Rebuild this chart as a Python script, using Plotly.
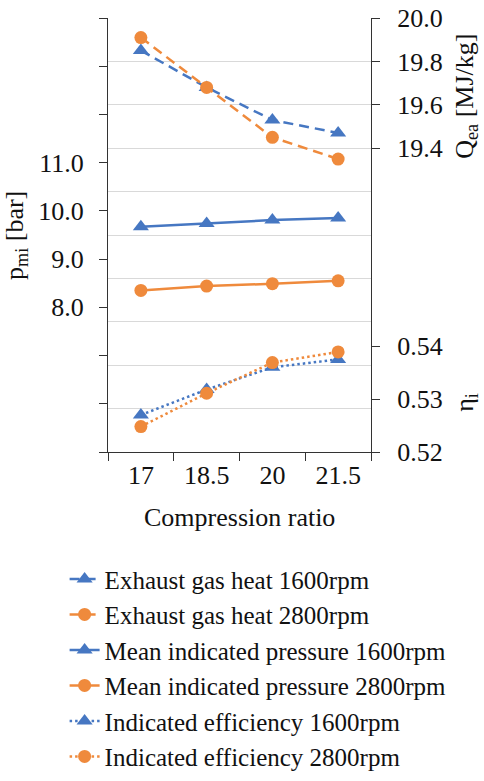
import plotly.graph_objects as go

# Compression ratio categories
ratios = ["17", "18.5", "20", "21.5"]

# Exhaust gas heat Q_ea [MJ/kg]
q_1600 = [19.85, 19.68, 19.53, 19.47]
q_2800 = [19.91, 19.68, 19.45, 19.35]

# Mean indicated pressure p_mi [bar]
p_1600 = [9.67, 9.74, 9.81, 9.85]
p_2800 = [8.35, 8.44, 8.49, 8.55]

# Indicated efficiency eta_i [-]
eta_1600 = [0.527, 0.5318, 0.536, 0.5375]
eta_2800 = [0.5248, 0.5311, 0.5369, 0.5389]

# Axis tick labels
p_ticks = [5, 6, 7, 8, 9, 10, 11, 12, 13, 14]
p_labels = ["", "", "", "8.0", "9.0", "10.0", "11.0", "", "", ""]
q_ticks = [19.4, 19.6, 19.8, 20.0]
q_labels = ["19.4", "19.6", "19.8", "20.0"]
q_grid = [18.0, 18.2, 18.4, 18.6, 18.8, 19.0, 19.2, 19.4, 19.6, 19.8, 20.0]
eta_ticks = [0.52, 0.53, 0.54]
eta_labels = ["0.52", "0.53", "0.54"]

BLUE = "#4677C2"
ORANGE = "#EF8A3C"
FONT = "Liberation Serif"
AXIS = "#333333"
GRID = "#D9D9D9"
TICK_SIZE = 26

fig = go.Figure()

# empty trace that carries the grid axis
fig.add_trace(go.Scatter(x=[ratios[0]], y=[None], yaxis="y4", showlegend=False,
                         hoverinfo="skip", mode="markers"))

series = [
    ("Exhaust gas heat 1600rpm", q_1600, "y2", BLUE, "triangle-up", "10px,6px"),
    ("Exhaust gas heat 2800rpm", q_2800, "y2", ORANGE, "circle", "10px,6px"),
    ("Mean indicated pressure 1600rpm", p_1600, "y", BLUE, "triangle-up", "solid"),
    ("Mean indicated pressure 2800rpm", p_2800, "y", ORANGE, "circle", "solid"),
    ("Indicated efficiency 1600rpm", eta_1600, "y3", BLUE, "triangle-up", "2.5px,3px"),
    ("Indicated efficiency 2800rpm", eta_2800, "y3", ORANGE, "circle", "2.5px,3px"),
]

for name, vals, ax, color, sym, dash in series:
    fig.add_trace(go.Scatter(
        x=ratios, y=vals, name=name, yaxis=ax, mode="lines+markers",
        line=dict(color=color, width=2.5, dash=dash),
        marker=dict(color=color, symbol=sym, size=13 if sym == "circle" else 14),
    ))

fig.update_layout(
    width=484, height=781,
    margin=dict(l=108, r=113, t=18, b=329, autoexpand=False),
    paper_bgcolor="white", plot_bgcolor="white",
    font=dict(family=FONT, size=25, color="#111111"),
    showlegend=True,
    legend=dict(
        x=-0.165, y=-0.24, xanchor="left", yanchor="top",
        font=dict(family=FONT, size=25, color="#111111"),
        bgcolor="rgba(0,0,0,0)", tracegroupgap=0,
    ),
    xaxis=dict(
        type="category", tickson="boundaries", ticks="outside", ticklen=8,
        tickcolor=AXIS, showline=True, linecolor=AXIS, linewidth=1.2,
        showgrid=False, range=[-0.5, 3.5],
        tickfont=dict(family=FONT, size=TICK_SIZE),
    ),
    # horizontal grid lines on the Q_ea scale
    yaxis4=dict(
        range=[18.0, 20.0], overlaying="y", side="right", anchor="x",
        tickvals=q_grid, showticklabels=False, ticks="", showline=False,
        showgrid=True, gridcolor=GRID, gridwidth=1, zeroline=False,
    ),
    yaxis=dict(
        range=[5, 14], tickvals=p_ticks, ticktext=p_labels, ticks="outside",
        ticklen=8, tickcolor=AXIS, showline=True, linecolor=AXIS, linewidth=1.2,
        showgrid=False, zeroline=False, ticklabelstandoff=10,
        tickfont=dict(family=FONT, size=TICK_SIZE),
    ),
    yaxis2=dict(
        range=[18.0, 20.0], overlaying="y", side="right", anchor="x",
        tickvals=q_ticks, ticktext=q_labels, ticks="outside", ticklen=8,
        tickcolor=AXIS, showline=True, linecolor=AXIS, linewidth=1.2,
        showgrid=False, zeroline=False, ticklabelstandoff=12,
        tickfont=dict(family=FONT, size=TICK_SIZE),
    ),
    yaxis3=dict(
        range=[0.52, 0.602], overlaying="y", side="right", anchor="x",
        tickvals=eta_ticks, ticktext=eta_labels, ticks="outside", ticklen=8,
        tickcolor=AXIS, showline=False, showgrid=False, zeroline=False,
        ticklabelstandoff=12,
        tickfont=dict(family=FONT, size=TICK_SIZE),
    ),
)

# Axis titles
fig.add_annotation(text="p<sub>mi</sub> [bar]", xref="paper", yref="paper",
                   x=-0.35, y=0.50, textangle=-90, showarrow=False,
                   font=dict(family=FONT, size=26), xanchor="center", yanchor="middle")
fig.add_annotation(text="Q<sub>ea</sub> [MJ/kg]", xref="paper", yref="paper",
                   x=1.36, y=0.82, textangle=-90, showarrow=False,
                   font=dict(family=FONT, size=26), xanchor="center", yanchor="middle")
fig.add_annotation(text="η<sub>i</sub>", xref="paper", yref="paper",
                   x=1.36, y=0.115, textangle=-90, showarrow=False,
                   font=dict(family=FONT, size=26), xanchor="center", yanchor="middle")
fig.add_annotation(text="Compression ratio", xref="paper", yref="paper",
                   x=0.5, y=-0.15, showarrow=False,
                   font=dict(family=FONT, size=26), xanchor="center", yanchor="middle")

fig.write_html("out.html")
